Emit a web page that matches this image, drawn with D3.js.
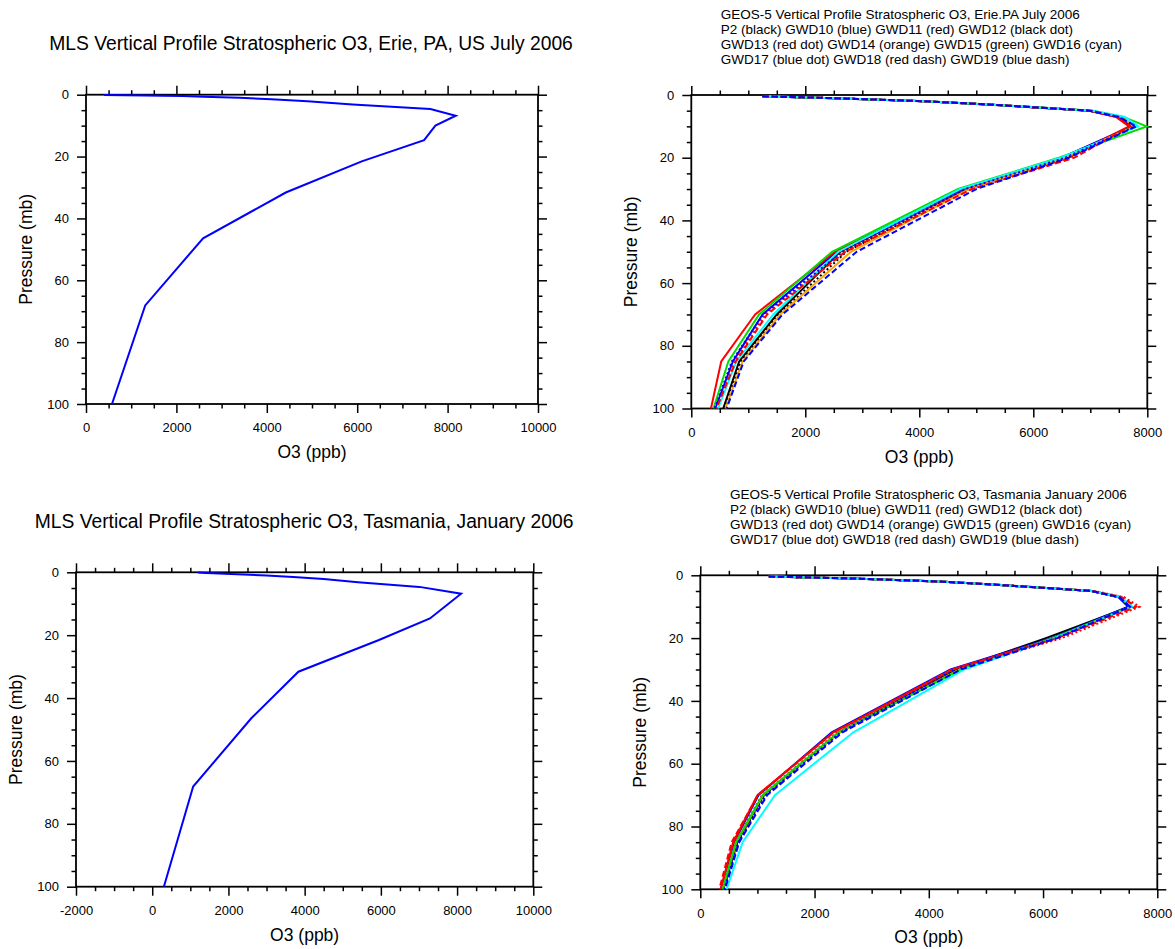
<!DOCTYPE html>
<html>
<head>
<meta charset="utf-8">
<script src="https://cdn.jsdelivr.net/npm/d3@7"></script>
<style>
  body { margin: 0; background: #fff; }
  svg { display: block; font-family: "Liberation Sans", Arial, Helvetica, sans-serif; }
</style>
</head>
<body>
<svg id="chart" width="1175" height="949"></svg>
<script>
// MLS retrieval pressure levels (mb) and ozone (ppb)
const mlsLevels = [100, 68.13, 46.42, 31.62, 21.54, 14.68, 10, 6.81, 4.64, 3.16, 2.15, 1.47, 1, 0.68, 0.46, 0.32, 0.22, 0.1];
const mlsErie = [575, 1310, 2590, 4420, 6100, 7480, 7730, 8180, 7620, 5900, 4900, 4100, 3400, 2600, 2150, 1700, 1300, 400];
const mlsTasmania = [306, 1075, 2600, 3836, 5950, 7288, 7774, 8106, 7012, 5400, 4500, 3700, 3000, 2400, 1900, 1600, 1400, 1200];

// GEOS-5 output levels (mb)
const geosLevels = [0.4, 1, 2, 3, 5, 7, 10, 20, 30, 50, 70, 85, 100];
const runNames = ["P2", "GWD10", "GWD11", "GWD12", "GWD13", "GWD14", "GWD15", "GWD16", "GWD17", "GWD18", "GWD19"];

// one row per run, same order as runNames
const geosErie = [
  [1250, 2500, 4100, 5200, 7000, 7500, 7750, 6500, 4780, 2610, 1500, 840, 560],
  [1250, 2480, 4080, 5180, 6980, 7480, 7720, 6500, 4760, 2550, 1250, 730, 420],
  [1260, 2500, 4100, 5200, 6990, 7450, 7680, 6600, 4850, 2520, 1120, 525, 345],
  [1250, 2500, 4100, 5200, 7000, 7500, 7730, 6580, 4830, 2720, 1530, 870, 590],
  [1250, 2500, 4100, 5200, 7000, 7480, 7700, 6650, 4900, 2690, 1300, 760, 450],
  [1260, 2520, 4120, 5230, 7050, 7550, 7760, 6550, 4870, 2800, 1560, 900, 600],
  [1250, 2500, 4100, 5200, 7020, 7580, 7990, 6450, 4680, 2470, 1190, 650, 390],
  [1260, 2520, 4120, 5230, 7050, 7610, 7840, 6480, 4720, 2580, 1440, 790, 470],
  [1250, 2500, 4100, 5200, 7000, 7500, 7780, 6560, 4800, 2650, 1260, 710, 410],
  [1250, 2500, 4100, 5200, 7000, 7480, 7700, 6720, 4920, 2700, 1330, 780, 440],
  [1250, 2490, 4090, 5190, 6990, 7500, 7810, 6620, 5000, 2900, 1600, 920, 620]
];
const geosTasmania = [
  [1200, 2650, 4200, 5180, 6850, 7350, 7520, 6050, 4480, 2430, 1110, 640, 400],
  [1200, 2650, 4200, 5180, 6850, 7320, 7490, 6150, 4380, 2300, 1020, 590, 360],
  [1200, 2650, 4200, 5180, 6860, 7360, 7550, 6200, 4420, 2330, 1000, 575, 355],
  [1200, 2650, 4200, 5180, 6850, 7350, 7530, 6180, 4500, 2450, 1120, 650, 405],
  [1210, 2680, 4230, 5220, 6900, 7420, 7690, 6330, 4470, 2400, 1080, 610, 380],
  [1200, 2650, 4200, 5180, 6850, 7350, 7540, 6200, 4540, 2440, 1100, 630, 395],
  [1200, 2650, 4200, 5180, 6850, 7350, 7530, 6170, 4560, 2420, 1090, 625, 392],
  [1200, 2650, 4200, 5180, 6860, 7370, 7560, 6200, 4620, 2680, 1306, 741, 462],
  [1200, 2650, 4200, 5180, 6850, 7340, 7520, 6230, 4450, 2460, 1150, 670, 420],
  [1200, 2650, 4200, 5180, 6860, 7380, 7630, 6250, 4400, 2340, 1010, 549, 332],
  [1200, 2650, 4200, 5180, 6850, 7340, 7520, 6250, 4560, 2490, 1171, 682, 432]
];

const runColors = ["black", "blue", "red", "black", "red", "orange", "#00dd00", "cyan", "blue", "red", "blue"];
const runDash = [null, null, null, "2,2.5", "2,2.5", null, null, null, "2,2.5", "6,3", "6,3"];

const mlsTitles = [
  "MLS Vertical Profile Stratospheric O3, Erie, PA, US July 2006",
  "MLS Vertical Profile Stratospheric O3, Tasmania, January 2006"
];
const geosTitles = [
  ["GEOS-5 Vertical Profile Stratospheric O3, Erie.PA July 2006",
   "P2 (black) GWD10 (blue) GWD11 (red) GWD12 (black dot)",
   "GWD13 (red dot) GWD14 (orange) GWD15 (green) GWD16 (cyan)",
   "GWD17 (blue dot) GWD18 (red dash) GWD19 (blue dash)"],
  ["GEOS-5 Vertical Profile Stratospheric O3, Tasmania January 2006",
   "P2 (black) GWD10 (blue) GWD11 (red) GWD12 (black dot)",
   "GWD13 (red dot) GWD14 (orange) GWD15 (green) GWD16 (cyan)",
   "GWD17 (blue dot) GWD18 (red dash) GWD19 (blue dash)"]
];

const svg = d3.select("#chart");

function addAxis(g, axis, transform, labelSize) {
  const a = g.append("g").attr("transform", transform).call(axis);
  a.select(".domain").remove();
  a.selectAll("line").attr("stroke", "#000").attr("stroke-width", 1.5);
  a.selectAll("text")
    .attr("fill", "#000")
    .style("font-size", (labelSize || 13) + "px")
    .style("font-family", "'Liberation Sans', Arial, Helvetica, sans-serif");
  return a;
}

function drawPanel(p) {
  const g = svg.append("g");
  const x = d3.scaleLinear().domain(p.xDomain).range([p.left, p.right]);
  const y = d3.scaleLinear().domain([0, 100]).range([p.top, p.bottom]);

  const majorX = d3.range(p.xDomain[0], p.xDomain[1] + 1, 2000);
  const minorX = d3.range(p.xDomain[0], p.xDomain[1] + 1, 500).filter(v => v % 2000 !== 0);
  const majorY = d3.range(0, 101, 20);
  const minorY = d3.range(0, 101, 5).filter(v => v % 20 !== 0);

  // ticks point outward on all four sides
  addAxis(g, d3.axisBottom(x).tickValues(majorX).tickSize(9).tickPadding(10).tickFormat(d => String(d)), `translate(0,${p.bottom})`);
  addAxis(g, d3.axisBottom(x).tickValues(minorX).tickSize(4.5).tickFormat(""), `translate(0,${p.bottom})`);
  addAxis(g, d3.axisTop(x).tickValues(majorX).tickSize(9).tickFormat(""), `translate(0,${p.top})`);
  addAxis(g, d3.axisTop(x).tickValues(minorX).tickSize(4.5).tickFormat(""), `translate(0,${p.top})`);
  addAxis(g, d3.axisLeft(y).tickValues(majorY).tickSize(9).tickPadding(8).tickFormat(d => String(d)), `translate(${p.left},0)`);
  addAxis(g, d3.axisLeft(y).tickValues(minorY).tickSize(4.5).tickFormat(""), `translate(${p.left},0)`);
  addAxis(g, d3.axisRight(y).tickValues(majorY).tickSize(9).tickFormat(""), `translate(${p.right},0)`);
  addAxis(g, d3.axisRight(y).tickValues(minorY).tickSize(4.5).tickFormat(""), `translate(${p.right},0)`);

  g.append("rect")
    .attr("x", p.left).attr("y", p.top)
    .attr("width", p.right - p.left).attr("height", p.bottom - p.top)
    .attr("fill", "none").attr("stroke", "#000").attr("stroke-width", 1.8);

  const line = d3.line().x(d => x(d[1])).y(d => y(d[0]));

  p.series.forEach((vals, i) => {
    const pts = p.levels.map((lev, k) => [lev, vals[k]]);
    g.append("path")
      .attr("d", line(pts))
      .attr("fill", "none")
      .attr("stroke", p.colors[i])
      .attr("stroke-width", 2)
      .attr("stroke-linejoin", "miter")
      .attr("stroke-dasharray", p.dash ? p.dash[i] : null);
  });

  // axis titles
  g.append("text")
    .attr("x", (p.left + p.right) / 2)
    .attr("y", p.bottom + 54)
    .attr("text-anchor", "middle")
    .style("font-size", "17.5px")
    .text("O3 (ppb)");

  g.append("text")
    .attr("transform", `translate(${p.yTitleX},${(p.top + p.bottom) / 2}) rotate(-90)`)
    .attr("text-anchor", "middle")
    .style("font-size", "17.5px")
    .text("Pressure (mb)");

  if (p.title) {
    g.append("text")
      .attr("x", p.titleX).attr("y", p.titleY)
      .attr("text-anchor", "middle")
      .style("font-size", "19.3px")
      .text(p.title);
  }
  if (p.titleLines) {
    g.selectAll(null)
      .data(p.titleLines)
      .enter()
      .append("text")
      .attr("x", p.titleX)
      .attr("y", (d, i) => p.titleY + i * 14.9)
      .style("font-size", "13.5px")
      .text(d => d);
  }
}

drawPanel({
  left: 86, right: 538, top: 94.7, bottom: 404, xDomain: [0, 10000],
  levels: mlsLevels, series: [mlsErie], colors: ["blue"],
  title: mlsTitles[0], titleX: 311, titleY: 50, yTitleX: 32
});

drawPanel({
  left: 691.3, right: 1147.3, top: 95, bottom: 408.5, xDomain: [0, 8000],
  levels: geosLevels, series: geosErie, colors: runColors, dash: runDash,
  titleLines: geosTitles[0], titleX: 720.7, titleY: 19.1, yTitleX: 637
});

drawPanel({
  left: 76, right: 533.3, top: 572.3, bottom: 886.7, xDomain: [-2000, 10000],
  levels: mlsLevels, series: [mlsTasmania], colors: ["blue"],
  title: mlsTitles[1], titleX: 304, titleY: 527.5, yTitleX: 21.5
});

drawPanel({
  left: 700.3, right: 1157.3, top: 575.3, bottom: 889.3, xDomain: [0, 8000],
  levels: geosLevels, series: geosTasmania, colors: runColors, dash: runDash,
  titleLines: geosTitles[1], titleX: 730, titleY: 499.1, yTitleX: 646
});
</script>
</body>
</html>
